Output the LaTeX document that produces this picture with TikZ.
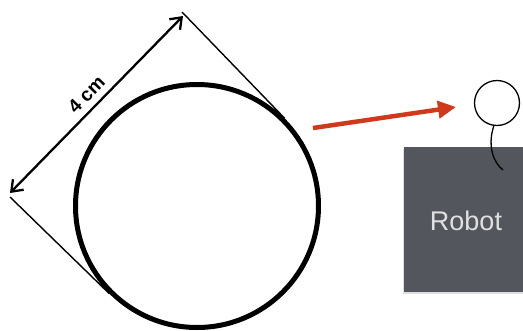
\documentclass[tikz,border=0pt]{standalone}
\usepackage{fontspec}
\setmainfont{Liberation Sans}
\usepackage{tikz}
\usetikzlibrary{arrows.meta,positioning,calc,shadows}
\definecolor{pushred}{HTML}{D03A1C}
\definecolor{robotgray}{HTML}{53565D}

\begin{document}
\begin{tikzpicture}[x=1pt, y=-1pt,
  wheel/.style={circle, draw, line width=5pt, minimum size=243pt, inner sep=0pt},
  tang/.style={line width=1.4pt},
  dim/.style={line width=2.3pt, {Straight Barb[length=10pt,width=15pt]}-{Straight Barb[length=10pt,width=15pt]}},
  push/.style={line width=4.5pt, pushred, -{Triangle[length=18pt,width=17pt]}},
  eye/.style={circle, draw, line width=1.3pt, minimum size=45pt, inner sep=0pt},
  body/.style={fill=robotgray, minimum width=124pt, minimum height=145pt, inner sep=0pt,
    drop shadow={shadow xshift=-1.5pt, shadow yshift=-2pt, opacity=.25}}]
  \useasboundingbox (0,0) rectangle (523,330);
  \node[wheel] (disc) at (197,206) {};
  \coordinate (ur) at (182,12); \coordinate (ll) at (10,197);
  \draw[tang] (disc.45) -- (ur); \draw[tang] (disc.225) -- (ll);
  \coordinate (a1) at (10,193); \coordinate (a2) at (183,16);
  \draw[dim] (a1) -- node[sloped, above=3pt, font=\bfseries\fontsize{19}{19}\selectfont] {4 cm} (a2);
  \node[body, anchor=north west] (robot) at (404,147) {};
  \node[font=\fontsize{27}{27}\selectfont, text=white!88!black] (lbl) at (466,221) {Robot};
  \node[eye] (sensor) at (497,103) {};
  \coordinate (wire) at (503,170);
  \draw[line width=1.3pt] (sensor.262) .. controls (487,147) and (494,163) .. (wire);
  \coordinate (src) at (313,128); \coordinate (tip) at (456,107);
  \draw[push] (src) -- (tip);
\end{tikzpicture}
\end{document}
